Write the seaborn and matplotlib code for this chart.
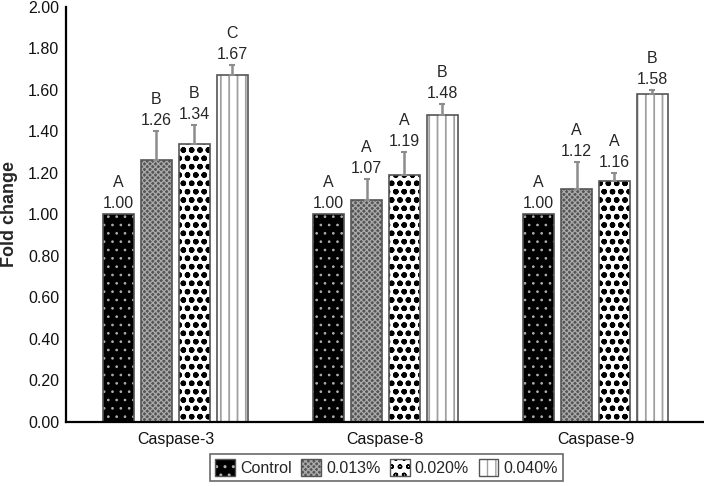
import numpy as np
import pandas as pd
import matplotlib
matplotlib.use("Agg")
import matplotlib.pyplot as plt
import matplotlib.colors as mcolors
from matplotlib.patches import Patch
import seaborn as sns

genes = ["Caspase-3", "Caspase-8", "Caspase-9"]
grupos = ["Control", "0.013%", "0.020%", "0.040%"]

# fold change por grupo (ordem: Caspase-3, -8, -9)
fold = {
    "Control": [1.00, 1.00, 1.00],
    "0.013%": [1.26, 1.07, 1.12],
    "0.020%": [1.34, 1.19, 1.16],
    "0.040%": [1.67, 1.48, 1.58],
}
erro = {
    "Control": [0.00, 0.00, 0.00],
    "0.013%": [0.14, 0.10, 0.13],
    "0.020%": [0.09, 0.11, 0.04],
    "0.040%": [0.05, 0.05, 0.02],
}
letras = {
    "Control": ["A", "A", "A"],
    "0.013%": ["B", "A", "A"],
    "0.020%": ["B", "A", "A"],
    "0.040%": ["C", "B", "B"],
}

# estilo de cada grupo: face, hachura, cor da hachura, espessura da hachura
estilos = {
    "Control": ("#000000", "..", "#b0b0b0", 0.7),
    "0.013%": ("#555555", "xxxxxx", "#aaaaaa", 0.9),
    "0.020%": ("#ffffff", "oo", "#000000", 1.6),
    "0.040%": ("#ffffff", "||", "#a0a0a0", 1.3),
}


def aplica_estilo(p, g, borda="#555555"):
    face, hatch, hcor, hlw = estilos[g]
    p.set_facecolor(face)
    p.set_edgecolor(borda)
    p.set_hatch(hatch)
    p._hatch_color = mcolors.to_rgba(hcor)
    if hasattr(p, "set_hatch_linewidth"):
        p.set_hatch_linewidth(hlw)
    else:
        p._hatch_linewidth = hlw


linhas = []
for g in grupos:
    for i, gene in enumerate(genes):
        linhas.append({"Gene": gene, "Grupo": g, "Fold": fold[g][i]})
df = pd.DataFrame(linhas)

sns.set_theme(style="white")
plt.rcParams["font.family"] = ["Liberation Sans", "DejaVu Sans"]

fig = plt.figure(figsize=(7.04, 4.86), dpi=100)
ax = fig.add_axes([0.094, 0.132, 0.904, 0.854])

sns.barplot(
    data=df, x="Gene", y="Fold", hue="Grupo",
    order=genes, hue_order=grupos,
    palette={g: estilos[g][0] for g in grupos},
    width=0.72, gap=0.18, errorbar=None, legend=False, ax=ax,
)

for k, g in enumerate(grupos):
    for i, bar in enumerate(ax.containers[k]):
        aplica_estilo(bar, g)
        bar.set_linewidth(1.2)
        x = bar.get_x() + bar.get_width() / 2
        h = fold[g][i]
        e = erro[g][i]
        if e > 0:
            ax.errorbar(x, h, yerr=[[0], [e]], fmt="none", ecolor="#8c8c8c",
                        elinewidth=1.8, capsize=2.2, capthick=1.5, zorder=3)
        topo = h + e
        ax.annotate(f"{h:.2f}", (x, topo), xytext=(0, 4.5), textcoords="offset points",
                    ha="center", va="baseline", fontsize=11.5)
        ax.annotate(letras[g][i], (x, topo), xytext=(0, 19.5), textcoords="offset points",
                    ha="center", va="baseline", fontsize=11.5)

ax.set_ylim(0, 2.0)
ax.set_xlim(-0.52, 2.51)
ax.set_yticks(np.arange(0, 2.01, 0.2))
ax.set_yticklabels([f"{v:.2f}" for v in np.arange(0, 2.01, 0.2)])
ax.tick_params(axis="both", length=0, labelsize=11.5, colors="#111111")
ax.tick_params(axis="y", pad=5)
ax.tick_params(axis="x", pad=7)
ax.set_xlabel("")
ax.set_ylabel("Fold change", fontsize=13, fontweight="bold", labelpad=7)
sns.despine(ax=ax)
for s in ["left", "bottom"]:
    ax.spines[s].set_color("black")
    ax.spines[s].set_linewidth(1.6)

handles = []
for g in grupos:
    p = Patch(label=g, linewidth=1.0)
    aplica_estilo(p, g)
    handles.append(p)
leg = fig.legend(handles=handles, loc="center", bbox_to_anchor=(0.549, 0.038), ncol=4,
                 frameon=True, fancybox=False, edgecolor="#444444", fontsize=11.5,
                 handlelength=1.25, handleheight=1.3, handletextpad=0.3,
                 columnspacing=0.6, borderpad=0.3, borderaxespad=0)
leg.get_frame().set_linewidth(1.2)

fig.savefig("out.png", dpi=100)
